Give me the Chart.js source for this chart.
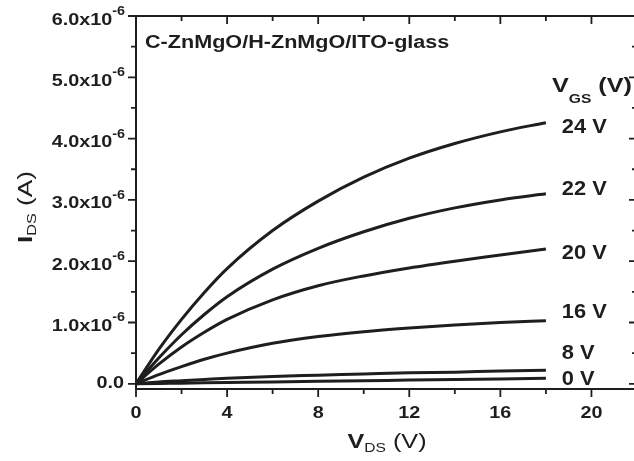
<!DOCTYPE html>
<html>
<head>
<meta charset="utf-8">
<script src="https://cdn.jsdelivr.net/npm/chart.js@4"></script>
<style>
  html, body { margin: 0; padding: 0; background: #fff; overflow: hidden; }
</style>
</head>
<body>
<canvas id="ivChart" width="640" height="461"></canvas>
<script>
// ====== Data ======
const vds = [0, 1, 2, 3, 4, 6, 8, 10, 12, 14, 16, 18];             // V_DS (V)
const vgsLabels = ["24 V", "22 V", "20 V", "16 V", "8 V", "0 V"];
const ids24 = [0, 0.56e-6, 1.05e-6, 1.49e-6, 1.88e-6, 2.50e-6, 2.98e-6, 3.37e-6, 3.68e-6, 3.92e-6, 4.11e-6, 4.26e-6];
const ids22 = [0, 0.42e-6, 0.80e-6, 1.13e-6, 1.42e-6, 1.87e-6, 2.21e-6, 2.48e-6, 2.70e-6, 2.87e-6, 3.00e-6, 3.10e-6];
const ids20 = [0, 0.32e-6, 0.60e-6, 0.84e-6, 1.05e-6, 1.37e-6, 1.60e-6, 1.76e-6, 1.89e-6, 2.00e-6, 2.10e-6, 2.20e-6];
const ids16 = [0, 0.15e-6, 0.28e-6, 0.40e-6, 0.50e-6, 0.66e-6, 0.77e-6, 0.85e-6, 0.91e-6, 0.96e-6, 1.00e-6, 1.03e-6];
const ids8  = [0, 0.03e-6, 0.05e-6, 0.07e-6, 0.09e-6, 0.12e-6, 0.14e-6, 0.16e-6, 0.18e-6, 0.19e-6, 0.21e-6, 0.22e-6];
const ids0  = [0, 0.005e-6, 0.01e-6, 0.015e-6, 0.02e-6, 0.03e-6, 0.04e-6, 0.05e-6, 0.06e-6, 0.07e-6, 0.08e-6, 0.09e-6];

const xTickValues = [0, 4, 8, 12, 16, 20];
const yTickValues = [0, 1e-6, 2e-6, 3e-6, 4e-6, 5e-6, 6e-6];
const yTickMantissa = ["0.0", "1.0", "2.0", "3.0", "4.0", "5.0", "6.0"];

// ====== helpers ======
const INK = "#1e1e1e";
const FAM = '"Liberation Sans", Arial, sans-serif';
const SX = 1.2; // the figure's lettering is a bit wide

// draw a row of text runs (for sub/superscripts), stretched horizontally
function drawRuns(ctx, runs, x, y, align, sx) {
  let total = 0;
  runs.forEach(r => { ctx.font = r.font; r.w = ctx.measureText(r.t).width * sx; total += r.w; });
  let cx = align === "right" ? x - total : align === "center" ? x - total / 2 : x;
  runs.forEach(r => {
    ctx.save();
    ctx.font = r.font;
    ctx.translate(cx, y + (r.dy || 0));
    ctx.scale(sx, 1);
    ctx.fillText(r.t, 0, 0);
    ctx.restore();
    cx += r.w;
  });
}

const ds = (data) => ({
  data: data.map((v, i) => ({ x: vds[i], y: v })),
  borderColor: INK,
  borderWidth: 3,
  pointRadius: 0,
  fill: false,
  cubicInterpolationMode: "monotone"
});

// ====== axes, frame and labels ======
const decor = {
  id: "decor",
  afterDraw(chart) {
    const ctx = chart.ctx;
    const xs = chart.scales.x, ys = chart.scales.y;
    const a = chart.chartArea;
    ctx.save();
    ctx.fillStyle = INK;
    ctx.strokeStyle = INK;
    ctx.textBaseline = "alphabetic";

    // frame
    ctx.lineWidth = 2;
    ctx.strokeRect(a.left, a.top, a.right - a.left, a.bottom - a.top);

    // ticks
    ctx.lineWidth = 1.8;
    ctx.beginPath();
    for (let v = 0; v <= 22; v += 2) {
      const px = xs.getPixelForValue(v);
      const len = v % 4 === 0 ? 8 : 5;
      ctx.moveTo(px, a.bottom); ctx.lineTo(px, a.bottom + len);
      ctx.moveTo(px, a.top); ctx.lineTo(px, a.top + len);
    }
    for (let k = 0; k <= 12; k++) {
      const py = ys.getPixelForValue(k * 0.5e-6);
      const len = k % 2 === 0 ? 8 : 5;
      ctx.moveTo(a.left, py); ctx.lineTo(a.left - len, py);
      ctx.moveTo(a.right, py); ctx.lineTo(a.right - len, py);
    }
    ctx.stroke();

    // x tick labels
    xTickValues.forEach(v => {
      drawRuns(ctx, [{ t: String(v), font: "bold 16.5px " + FAM }],
        xs.getPixelForValue(v), a.bottom + 29, "center", SX);
    });

    // y tick labels (mantissa x 10^-6)
    yTickValues.forEach((v, i) => {
      const py = ys.getPixelForValue(v);
      if (v === 0) {
        drawRuns(ctx, [{ t: yTickMantissa[i], font: "bold 16.5px " + FAM }], 124, py + 4, "right", SX);
      } else {
        drawRuns(ctx, [
          { t: yTickMantissa[i] + "x10", font: "bold 16.5px " + FAM },
          { t: "-6", font: "bold 12px " + FAM, dy: -9.5 }
        ], 125, py + 8.5, "right", SX);
      }
    });

    // x axis title
    drawRuns(ctx, [
      { t: "V", font: "bold 21px " + FAM },
      { t: "DS", font: "13px " + FAM, dy: 4 },
      { t: " (V)", font: "21px " + FAM }
    ], 387, 448, "center", SX);

    // y axis title (rotated)
    ctx.save();
    ctx.translate(32, 207);
    ctx.rotate(-Math.PI / 2);
    drawRuns(ctx, [
      { t: "I", font: "bold 21px " + FAM },
      { t: "DS", font: "13px " + FAM, dy: 4 },
      { t: " (A)", font: "21px " + FAM }
    ], 0, 0, "center", 1.25);
    ctx.restore();

    // sample title
    drawRuns(ctx, [{ t: "C-ZnMgO/H-ZnMgO/ITO-glass", font: "bold 18px " + FAM }], 145, 48, "left", SX);

    // V_GS header
    drawRuns(ctx, [
      { t: "V", font: "bold 21px " + FAM },
      { t: "GS", font: "bold 13px " + FAM, dy: 11 },
      { t: " (V)", font: "bold 21px " + FAM }
    ], 552, 92, "left", SX);

    // curve labels, next to the curve ends
    const labelY = [4.18e-6, 3.16e-6, 2.12e-6, 1.16e-6, 0.50e-6, 0.07e-6];
    ctx.textBaseline = "middle";
    vgsLabels.forEach((t, i) => {
      drawRuns(ctx, [{ t: t, font: "bold 19.5px " + FAM }],
        xs.getPixelForValue(18.7), ys.getPixelForValue(labelY[i]), "left", 1.12);
    });
    ctx.restore();
  }
};

// ====== Chart.js ======
const ctx = document.getElementById("ivChart").getContext("2d");

new Chart(ctx, {
  type: "line",
  data: {
    datasets: [ds(ids24), ds(ids22), ds(ids20), ds(ids16), ds(ids8), ds(ids0)]
  },
  options: {
    responsive: false,
    animation: false,
    devicePixelRatio: 1,
    layout: { padding: { top: 16, right: 3, left: 0, bottom: 0 } },
    plugins: { legend: { display: false }, tooltip: { enabled: false } },
    scales: {
      x: {
        type: "linear",
        min: 0,
        max: 22,
        grid: { display: false },
        border: { display: false },
        ticks: { display: false },
        afterFit: s => { s.height = 72; }
      },
      y: {
        type: "linear",
        min: -0.085e-6,
        max: 6e-6,
        grid: { display: false },
        border: { display: false },
        ticks: { display: false },
        afterFit: s => { s.width = 136; }
      }
    }
  },
  plugins: [decor]
});
</script>
</body>
</html>
